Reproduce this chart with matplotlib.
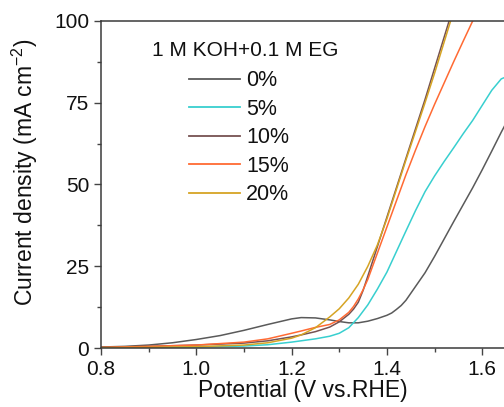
import matplotlib
matplotlib.use("Agg")
import matplotlib.pyplot as plt
from matplotlib.ticker import MultipleLocator

plt.rcParams['font.family'] = ['Liberation Sans', 'DejaVu Sans']
plt.rcParams['mathtext.default'] = 'regular'

# ---- data ----
labels = ["0%", "5%", "10%", "15%", "20%"]
colors = ["#5a5a5a", "#38cfcf", "#765252", "#ff6a33", "#d6a424"]

x_0 = [0.80, 0.85, 0.90, 0.95, 1.00, 1.05, 1.10, 1.15, 1.20, 1.22, 1.25, 1.28, 1.30, 1.32, 1.34,
       1.36, 1.38, 1.40, 1.41, 1.42, 1.43, 1.44, 1.46, 1.48, 1.50, 1.52, 1.54, 1.56, 1.58, 1.60,
       1.62, 1.64, 1.66]
y_0 = [0.3, 0.5, 0.9, 1.6, 2.6, 3.8, 5.4, 7.2, 8.9, 9.3, 9.2, 8.6, 8.1, 7.7, 7.7,
       8.2, 9.0, 10.0, 10.7, 11.8, 13.0, 14.6, 18.8, 23.0, 28.0, 33.3, 38.6, 43.8, 49.0, 54.5,
       60.2, 66.0, 71.5]

x_5 = [0.80, 0.90, 1.00, 1.10, 1.15, 1.20, 1.25, 1.28, 1.30, 1.32, 1.34, 1.36, 1.38, 1.40,
       1.42, 1.44, 1.46, 1.48, 1.50, 1.52, 1.54, 1.56, 1.58, 1.60, 1.62, 1.64, 1.66]
y_5 = [0.1, 0.15, 0.3, 0.6, 1.0, 1.8, 2.8, 3.6, 4.5, 6.2, 9.3, 13.2, 18.0, 23.2,
       29.5, 35.8, 42.0, 47.8, 52.6, 57.0, 61.2, 65.5, 69.6, 74.2, 78.8, 82.3, 83.5]

x_10 = [0.80, 0.90, 1.00, 1.10, 1.15, 1.20, 1.22, 1.25, 1.28, 1.30, 1.32, 1.33, 1.34, 1.35,
        1.36, 1.38, 1.40, 1.42, 1.44, 1.46, 1.48, 1.50, 1.52, 1.54]
y_10 = [0.2, 0.5, 0.9, 1.5, 2.2, 3.4, 4.0, 5.0, 6.4, 8.0, 10.3, 11.9, 14.0, 17.6,
        22.0, 31.0, 40.0, 49.0, 58.0, 67.0, 76.0, 85.5, 95.0, 104.5]

x_15 = [0.80, 0.90, 1.00, 1.10, 1.15, 1.20, 1.22, 1.25, 1.28, 1.30, 1.32, 1.33, 1.34, 1.35,
        1.36, 1.38, 1.40, 1.42, 1.44, 1.46, 1.48, 1.50, 1.52, 1.54, 1.56, 1.58, 1.60]
y_15 = [0.2, 0.5, 0.9, 1.8, 2.8, 4.5, 5.2, 6.3, 7.2, 8.6, 10.9, 12.7, 15.0, 17.8,
        21.0, 29.0, 37.0, 45.0, 53.0, 60.5, 67.7, 74.5, 81.0, 87.5, 93.8, 100.0, 106.0]

x_20 = [0.80, 0.90, 1.00, 1.10, 1.15, 1.20, 1.22, 1.25, 1.28, 1.30, 1.32, 1.34, 1.36, 1.38,
        1.40, 1.42, 1.44, 1.46, 1.48, 1.50, 1.52, 1.54]
y_20 = [0.1, 0.2, 0.4, 0.9, 1.6, 3.0, 4.0, 6.2, 9.5, 12.0, 15.3, 19.5, 25.0, 31.5,
        39.5, 48.5, 57.5, 66.2, 75.0, 84.0, 93.5, 103.0]

series_x = [x_0, x_5, x_10, x_15, x_20]
series_y = [y_0, y_5, y_10, y_15, y_20]

legend_title = "1 M KOH+0.1 M EG"
xticks = [0.8, 1.0, 1.2, 1.4, 1.6]
yticks = [0, 25, 50, 75, 100]

# ---- figure ----
W, H = 504, 407
fig = plt.figure(figsize=(W / 100, H / 100), dpi=100)
L, R, T, B = 101, 504, 21, 348
ax = fig.add_axes([L / W, 1 - B / H, (R - L) / W, (B - T) / H])

handles = []
for xs, ys, c, lab in zip(series_x, series_y, colors, labels):
    h, = ax.plot(xs, ys, color=c, lw=1.1, label=lab)
    handles.append(h)

ax.set_xlim(0.8, 0.8 + (R - L) / 476.5)
ax.set_ylim(0, 100)
ax.set_xticks(xticks)
ax.set_yticks(yticks)
ax.set_xticklabels([f"{v:.1f}" for v in xticks])
ax.set_yticklabels([str(v) for v in yticks])
ax.xaxis.set_minor_locator(MultipleLocator(0.1))
ax.yaxis.set_minor_locator(MultipleLocator(12.5))
ax.tick_params(which='major', direction='out', length=5, width=1.0, color='#444444',
               labelsize=15, pad=3.5, labelcolor='#111111')
ax.tick_params(which='minor', direction='out', length=3, width=1.0, color='#444444')
ax.spines['right'].set_visible(False)
for s in ['left', 'bottom', 'top']:
    ax.spines[s].set_linewidth(1.1)
    ax.spines[s].set_color('#3a3a3a')

ax.set_xlabel("Potential (V vs.RHE)", fontsize=16.5, va='center', color='#111111')
ax.xaxis.set_label_coords(0.5, -(391 - B) / (B - T))
ax.set_ylabel(r"Current density (mA cm$^{-2}$)", fontsize=16.5, va='center', color='#111111')
ax.yaxis.set_label_coords(-(L - 25) / (R - L), (B - 172) / (B - T))

ax.text((152 - L) / (R - L), (B - 51) / (B - T), legend_title, fontsize=15,
        ha='left', va='center', color='#111111', transform=ax.transAxes)

leg = ax.legend(handles=handles, labels=labels, loc='upper left',
                bbox_to_anchor=((189 - L) / (R - L), (B - 70.5) / (B - T)),
                frameon=False, fontsize=15.5, handlelength=2.35, handletextpad=0.3,
                labelspacing=0.345, borderpad=0, borderaxespad=0)
for t in leg.get_texts():
    t.set_color('#111111')
for lh in leg.get_lines():
    lh.set_linewidth(1.3)

fig.savefig("out.png", dpi=100)
